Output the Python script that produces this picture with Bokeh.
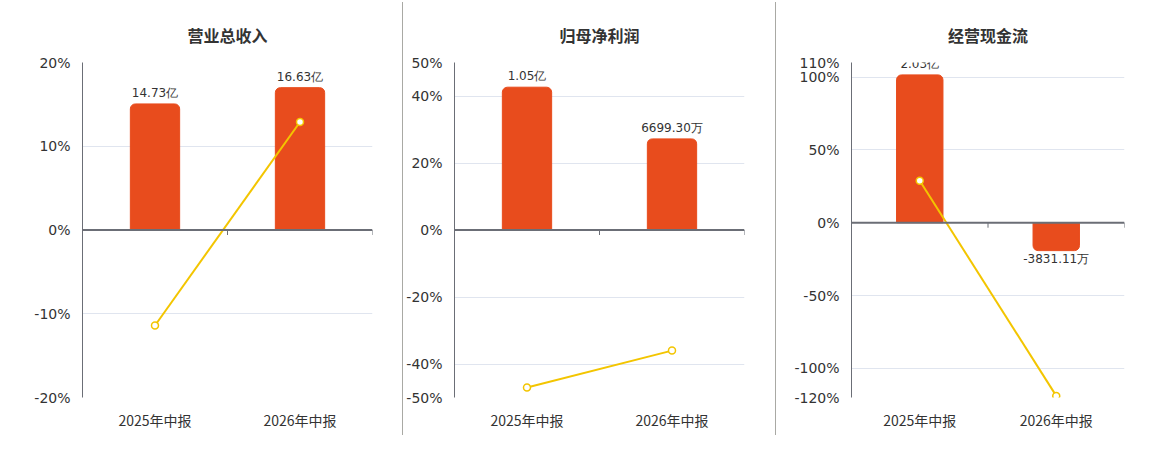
from bokeh.plotting import figure
from bokeh.models import (Range1d, FixedTicker, PrintfTickFormatter, Span, Legend,
                          LegendItem, Div, ColumnDataSource)
from bokeh.layouts import row
from bokeh.core.properties import value
from bokeh.embed import file_html
from bokeh.resources import INLINE

# ---- data ----
categories = ["2025年中报", "2026年中报"]
titles = ["营业总收入", "归母净利润", "经营现金流"]
yoy_label = "同比"

revenue = [14.73, 16.63]          # 亿
revenue_yoy = [-11.4, 12.9]       # %
profit = [1.05, 0.66993]          # 亿
profit_yoy = [-47.0, -36.0]
cashflow = [2.03, -0.383111]      # 亿
cashflow_yoy = [28.8, -118.9]

ticks1 = [-20, -10, 0, 10, 20]
ticks2 = [-50, -40, -20, 0, 20, 40, 50]
ticks3 = [-120, -100, -50, 0, 50, 100, 110]

NUM_FONT = "DejaVu Sans"
CJK_FONT = "Noto Sans CJK SC"
BAR = "#E84C1D"
YEL = "#F3C500"
TXT = "#333333"


def fmt(v):
    if abs(v) >= 1:
        return "%.2f亿" % v
    return "%.2f万" % (v * 10000)


def panel(title, bars, yoy, ticks, bar_scale, fw, bl, br, toff):
    lo, hi = ticks[0], ticks[-1]
    p = figure(frame_width=fw, frame_height=335, output_backend="svg",
               toolbar_location=None,
               x_range=Range1d(-0.5, 1.5), y_range=Range1d(lo, hi),
               min_border_left=bl, min_border_right=br, min_border_top=62,
               min_border_bottom=41, background_fill_color="white",
               border_fill_color="white", outline_line_color=None)
    p.extra_y_ranges = {"bar": Range1d(lo / bar_scale, hi / bar_scale)}
    xs = list(range(len(categories)))

    pos = ColumnDataSource(dict(x=[x for x, b in zip(xs, bars) if b >= 0],
                                v=[b for b in bars if b >= 0]))
    neg = ColumnDataSource(dict(x=[x for x, b in zip(xs, bars) if b < 0],
                                v=[b for b in bars if b < 0]))
    rb = p.vbar(x="x", top="v", bottom=0, width=0.34, source=pos, y_range_name="bar",
                fill_color=BAR, line_color=BAR, border_radius=(5, 5, 0, 0))
    if neg.data["x"]:
        p.vbar(x="x", top=0, bottom="v", width=0.34, source=neg, y_range_name="bar",
               fill_color=BAR, line_color=BAR, border_radius=(0, 0, 5, 5))

    p.text(x="x", y="v", text="t",
           source=ColumnDataSource(dict(x=pos.data["x"], v=pos.data["v"],
                                        t=[fmt(v) for v in pos.data["v"]])),
           y_range_name="bar", text_align="center", text_baseline="bottom", y_offset=-4,
           text_font=value(NUM_FONT), text_font_size="12px", text_color=TXT)
    if neg.data["x"]:
        p.text(x="x", y="v", text="t",
               source=ColumnDataSource(dict(x=neg.data["x"], v=neg.data["v"],
                                            t=[fmt(v) for v in neg.data["v"]])),
               y_range_name="bar", text_align="center", text_baseline="top", y_offset=1,
               text_font=value(NUM_FONT), text_font_size="12px", text_color=TXT)

    p.add_layout(Span(location=0, dimension="width", line_color="#6b6e76", line_width=2))
    tl = (hi - lo) * 5.0 / 335
    p.segment(x0=[0.5, 1.5], y0=[0, 0], x1=[0.5, 1.5], y1=[-tl, -tl],
              line_color="#6b6e76", line_width=1)

    rl = p.line(xs, yoy, line_color=YEL, line_width=2)
    rs = p.scatter(xs, yoy, size=7, fill_color="white", line_color=YEL, line_width=1.5)

    p.xaxis.ticker = FixedTicker(ticks=xs)
    p.xaxis.major_label_overrides = {i: c for i, c in enumerate(categories)}
    p.xaxis.axis_line_color = None
    p.xaxis.major_tick_line_color = None
    p.xaxis.minor_tick_line_color = None
    p.xaxis.major_label_standoff = 6
    p.xaxis.major_label_text_font = CJK_FONT
    p.xaxis.major_label_text_font_size = "14px"
    p.xaxis.major_label_text_color = TXT

    p.yaxis.ticker = FixedTicker(ticks=ticks)
    p.yaxis.formatter = PrintfTickFormatter(format="%d%%")
    p.yaxis.axis_line_color = "#6b6e76"
    p.yaxis.major_tick_line_color = None
    p.yaxis.minor_tick_line_color = None
    p.yaxis.major_label_standoff = 6
    p.yaxis.major_label_text_font = NUM_FONT
    p.yaxis.major_label_text_font_size = "14px"
    p.yaxis.major_label_text_color = TXT

    p.xgrid.grid_line_color = None
    p.ygrid.ticker = FixedTicker(ticks=ticks)
    p.ygrid.grid_line_color = "#e0e5ef"

    p.title.text = title
    p.title.align = "center"
    p.title.offset = toff
    p.title.text_font = CJK_FONT
    p.title.text_font_size = "16px"
    p.title.text_font_style = "bold"
    p.title.text_color = TXT
    p.title.standoff = 32

    leg = Legend(items=[LegendItem(label=title, renderers=[rb]),
                        LegendItem(label=yoy_label, renderers=[rl, rs])],
                 orientation="horizontal", location="center", padding=0, margin=0,
                 spacing=11, label_standoff=6, glyph_width=25, glyph_height=14,
                 label_text_font=CJK_FONT, label_text_font_size="12px",
                 label_text_color=TXT, border_line_color=None,
                 background_fill_alpha=0)
    p.add_layout(leg, "below")
    return p


p1 = panel(titles[0], revenue, revenue_yoy, ticks1, 1.022, 290, 82, 30, -25)
p2 = panel(titles[1], profit, profit_yoy, ticks2, 40.6, 290, 49, 31, -25)
p3 = panel(titles[2], cashflow, cashflow_yoy, ticks3, 50.0, 273, 75, 22, -33)


def divider():
    return Div(text="", width=1, height=433, margin=(2, 0, 0, 0),
               styles={"background-color": "#a9a9a4"})


layout = row(p1, divider(), p2, divider(), p3)
open("out.html", "w").write(file_html(layout, INLINE))
